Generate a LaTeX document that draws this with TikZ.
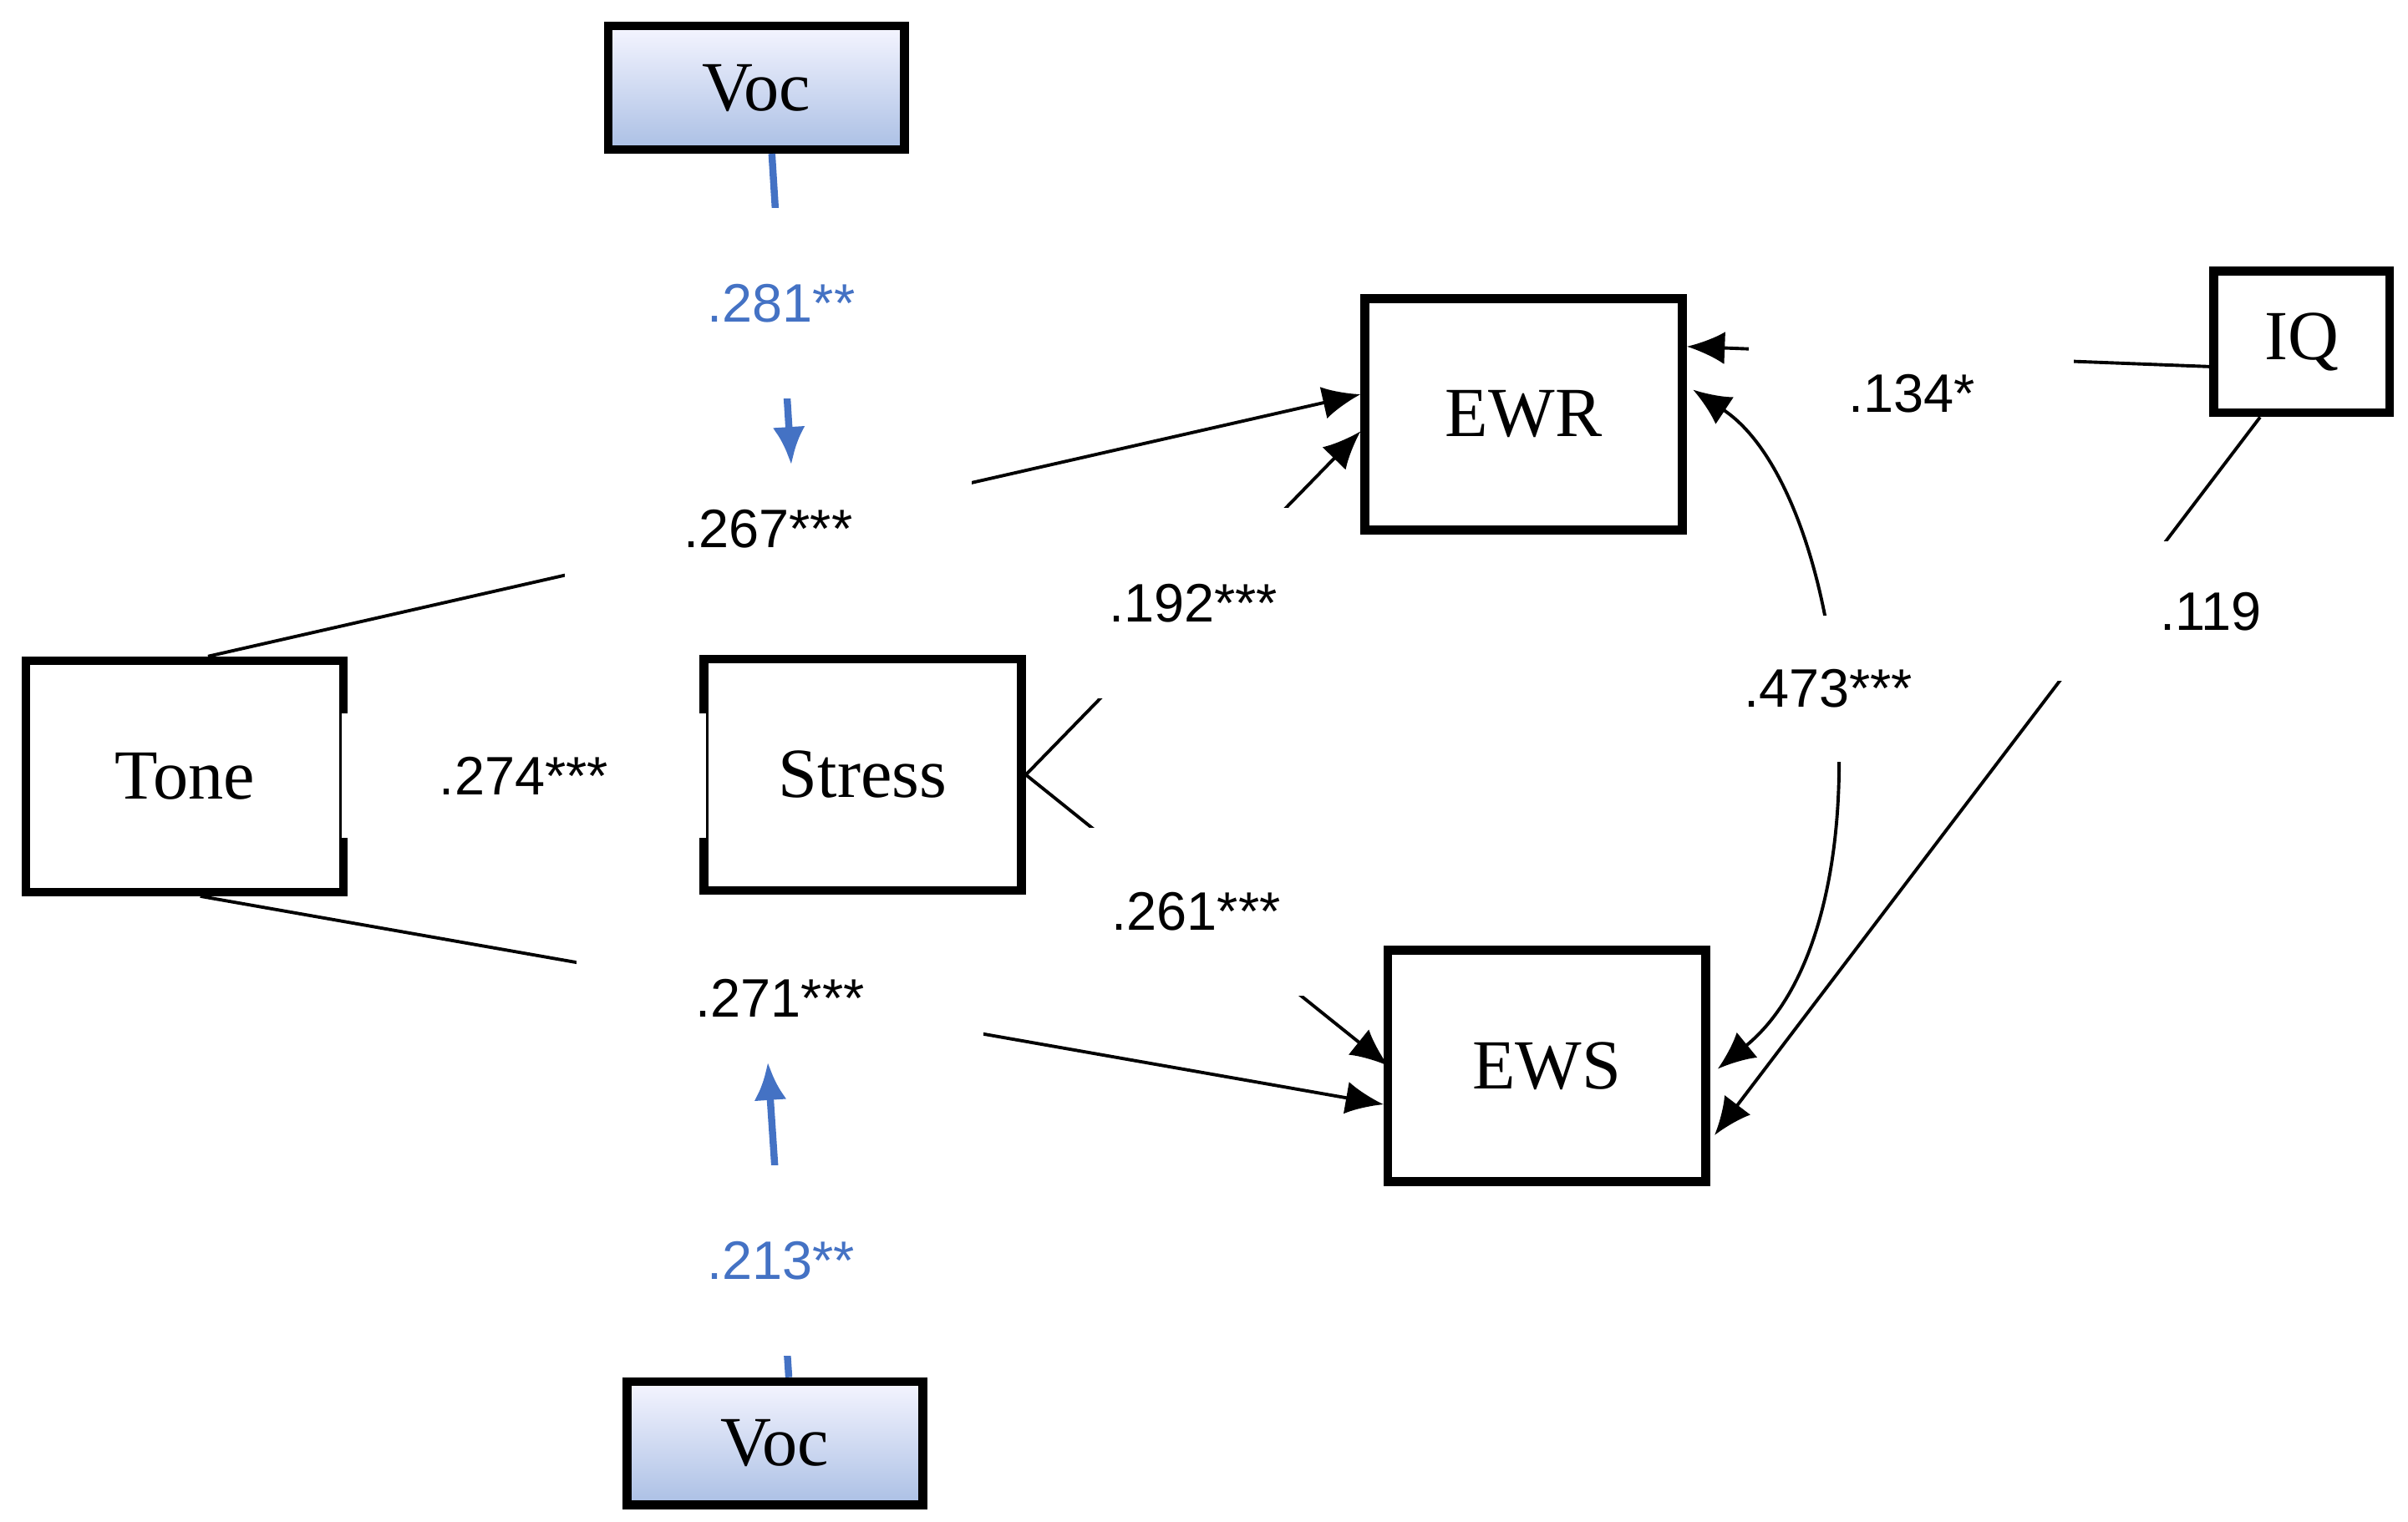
\documentclass[tikz,border=0pt]{standalone}
\usepackage{fontspec}
\setmainfont{Liberation Serif}
\newfontfamily\labfont{Liberation Sans}
\usetikzlibrary{arrows.meta}
\definecolor{vocblue}{HTML}{4472C4}
\begin{document}
\begin{tikzpicture}[x=0.01cm,y=-0.01cm,
  box/.style={draw,line width=1.6pt,minimum width=2.06cm,minimum height=1.5cm,font=\fontsize{13}{15}\selectfont,inner sep=0pt},
  voc/.style={box,minimum width=1.92cm,minimum height=0.8cm,top color=blue!4,bottom color=vocblue!45},
  lab/.style={fill=white,font=\labfont\fontsize{10}{12}\selectfont,inner sep=8pt},
  ar/.style={-{Latex[length=7pt,width=6pt]},line width=0.6pt},
  bl/.style={-{Latex[length=7pt,width=6pt]},line width=1.3pt,vocblue}]
\useasboundingbox (0,0) rectangle (1563,988);
\node[voc] (voc1) at (491,57) {Voc};
\node[voc] (voc2) at (503,937) {Voc};
\node[box] (ewr) at (989,269) {EWR};
\node[box,minimum width=1.14cm,minimum height=0.92cm] (iq) at (1494,222) {IQ};
\node[box] (tone) at (120,504) {Tone};
\node[box] (stress) at (560,503) {Stress};
\node[box] (ews) at (1004,692) {EWS};
% Tone -> EWR
\draw[ar] ([xshift=0.15cm]tone.north) -- node[lab,pos=0.486,inner xsep=22pt] (l267) {.267***} ([yshift=0.13cm]ewr.west);
% Tone -> Stress
\draw[ar] (tone.east) -- node[lab,inner xsep=18pt] {.274***} (stress.west);
% Stress -> EWR
\draw[ar] (stress.east) -- node[lab,pos=0.5,inner sep=14pt] {.192***} ([yshift=-0.11cm]ewr.west);
% Stress -> EWS
\draw[ar] (stress.east) -- node[lab,pos=0.47,inner sep=12pt] {.261***} ([yshift=0cm,xshift=0.03cm]ews.west);
% Tone -> EWS
\draw[ar] ([xshift=0.1cm]tone.south) -- node[lab,pos=0.49,inner xsep=22pt] (l271) {.271***} ([yshift=-0.25cm]ews.west);
% Voc moderators
\draw[bl] ([xshift=0.1cm]voc1.south) -- node[lab,pos=0.48,inner ysep=14pt] {.281**} ([xshift=0.15cm]l267.north);
\draw[bl] ([xshift=0.09cm]voc2.north) -- node[lab,pos=0.37,inner ysep=14pt] {.213**} ([xshift=-0.08cm]l271.south);
% IQ -> EWR
\draw[ar] ([yshift=-0.16cm]iq.west) -- node[lab,pos=0.57,inner xsep=30pt,yshift=-0.2cm] {} node[pos=0.57,yshift=-0.25cm,font=\labfont\fontsize{10}{12}\selectfont] {.134*} ([yshift=0.44cm]ewr.east);
% IQ -> EWS
\draw[ar] ([xshift=-0.27cm]iq.south) -- node[fill=white,pos=0.27,minimum width=0.9cm,minimum height=0.9cm] (g119) {} ([yshift=-0.45cm,xshift=0.03cm]ews.east);
\node[font=\labfont\fontsize{10}{12}\selectfont] at (1435,397) {.119};
% EWR <-> EWS
\draw[{Latex[length=7pt,width=6pt]}-{Latex[length=7pt,width=6pt]},line width=0.6pt] ([yshift=0.16cm,xshift=0.04cm]ewr.east) .. controls (1200,320) and (1230,600) .. node[lab,pos=0.47,inner sep=10pt] {.473***} ([yshift=-0.02cm,xshift=0.05cm]ews.east);
\end{tikzpicture}
\end{document}
